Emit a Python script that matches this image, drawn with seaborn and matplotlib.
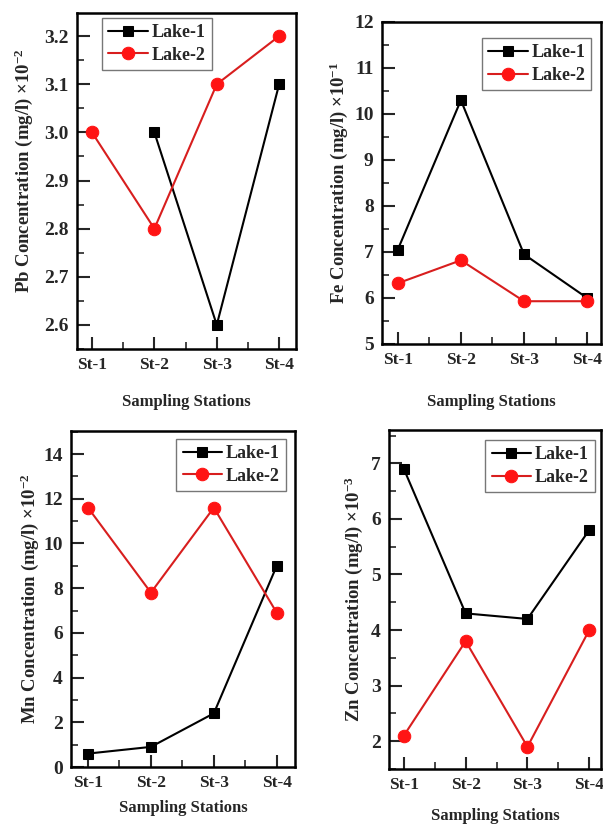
import numpy as np
import pandas as pd
import matplotlib
matplotlib.use("Agg")
import matplotlib.pyplot as plt
import seaborn as sns
from matplotlib.ticker import MultipleLocator

stations = ["St-1", "St-2", "St-3", "St-4"]
series = ["Lake-1", "Lake-2"]

pb_lake1 = [np.nan, 3.0, 2.6, 3.1]
pb_lake2 = [3.0, 2.8, 3.1, 3.2]
fe_lake1 = [7.05, 10.3, 6.95, 6.0]
fe_lake2 = [6.32, 6.82, 5.93, 5.93]
mn_lake1 = [0.6, 0.9, 2.4, 9.0]
mn_lake2 = [11.6, 7.8, 11.6, 6.9]
zn_lake1 = [6.9, 4.3, 4.2, 5.8]
zn_lake2 = [2.1, 3.8, 1.9, 4.0]

ylabels = [
    r"Pb Concentration (mg/l) $\times$10$^{-2}$",
    r"Fe Concentration (mg/l) $\times$10$^{-1}$",
    r"Mn Concentration (mg/l) $\times$10$^{-2}$",
    r"Zn Concentration (mg/l) $\times$10$^{-3}$",
]
xlabel = "Sampling Stations"

sns.set_style("white")
plt.rcParams["font.family"] = ["Liberation Serif", "DejaVu Serif"]
plt.rcParams["font.weight"] = "bold"
plt.rcParams["mathtext.fontset"] = "custom"
plt.rcParams["mathtext.rm"] = "Liberation Serif:bold"
plt.rcParams["mathtext.it"] = "Liberation Serif:bold"
plt.rcParams["mathtext.bf"] = "Liberation Serif:bold"
plt.rcParams["mathtext.default"] = "rm"

W, H = 603, 827
fig = plt.figure(figsize=(W / 100, H / 100), dpi=100)

def frac(l, r, t, b):
    return [l / W, 1 - b / H, (r - l) / W, (b - t) / H]

panels = [
    dict(rect=frac(77, 296, 13, 349), l1=pb_lake1, l2=pb_lake2, ylim=(2.55, 3.248), major=0.1,
         xlim=(-0.24, 3.27), leg=dict(loc="upper left", anchor=(0.114, 0.985)),
         ylab=(-0.19, 0.53), xlab=(0.5, -0.135)),
    dict(rect=frac(382, 601, 22, 344), l1=fe_lake1, l2=fe_lake2, ylim=(5, 12), major=1,
         xlim=(-0.25, 3.22), leg=dict(loc="upper left", anchor=(0.455, 0.95)),
         ylab=(-0.148, 0.5), xlab=(0.5, -0.155)),
    dict(rect=frac(71, 295, 431, 767), l1=mn_lake1, l2=mn_lake2, ylim=(0, 15.03), major=2,
         xlim=(-0.27, 3.29), leg=dict(loc="upper right", anchor=(0.96, 0.976)),
         ylab=(-0.136, 0.5), xlab=(0.5, -0.097)),
    dict(rect=frac(389, 601, 430, 769), l1=zn_lake1, l2=zn_lake2, ylim=(1.5, 7.6), major=1,
         xlim=(-0.24, 3.19), leg=dict(loc="upper right", anchor=(0.972, 0.97)),
         ylab=(-0.115, 0.5), xlab=(0.5, -0.116)),
]

xpos = np.arange(len(stations))
for p, ylab in zip(panels, ylabels):
    ax = fig.add_axes(p["rect"])
    df = pd.DataFrame({"x": np.concatenate([xpos, xpos]),
                       "y": np.concatenate([p["l1"], p["l2"]]),
                       "Lake": np.repeat(series, len(stations))})
    sns.lineplot(data=df[df.Lake == "Lake-1"], x="x", y="y", ax=ax, color="black",
                 marker="s", markersize=7, markeredgecolor="black", linewidth=1.5,
                 label="Lake-1")
    sns.lineplot(data=df[df.Lake == "Lake-2"], x="x", y="y", ax=ax, color="#d81e1e",
                 marker="o", markersize=9, markerfacecolor="#ff1414", markeredgecolor="#ff1414",
                 linewidth=1.5, label="Lake-2")
    ax.set_xlim(*p["xlim"])
    ax.set_ylim(*p["ylim"])
    ax.set_xticks(xpos)
    ax.set_xticklabels(stations, fontsize=12.5, fontweight="bold")
    ax.xaxis.set_minor_locator(MultipleLocator(0.5))
    ax.yaxis.set_major_locator(MultipleLocator(p["major"]))
    ax.yaxis.set_minor_locator(MultipleLocator(p["major"] / 2))
    ax.tick_params(axis="both", which="major", direction="in", length=9, width=1.5,
                   left=True, bottom=True, top=False, right=False, pad=6)
    ax.tick_params(axis="both", which="minor", direction="in", length=5, width=1.2,
                   left=True, bottom=True, top=False, right=False)
    ax.tick_params(axis="y", labelsize=14)
    for s in ax.spines.values():
        s.set_visible(True)
        s.set_linewidth(1.8)
        s.set_color("black")
    ax.set_ylabel(ylab, fontsize=13.5, fontweight="bold")
    ax.set_xlabel(xlabel, fontsize=12, fontweight="bold")
    ax.yaxis.set_label_coords(*p["ylab"])
    ax.xaxis.set_label_coords(*p["xlab"])
    leg = ax.legend(loc=p["leg"]["loc"], bbox_to_anchor=p["leg"]["anchor"], borderaxespad=0,
                    prop=dict(family="Liberation Serif", weight="bold", size=13),
                    handlelength=2.2, handletextpad=0.2, frameon=True, fancybox=False,
                    borderpad=0.35, labelspacing=0.3)
    leg.get_frame().set_edgecolor("#555555")
    leg.get_frame().set_linewidth(1.0)

fig.savefig("out.png", dpi=100)
